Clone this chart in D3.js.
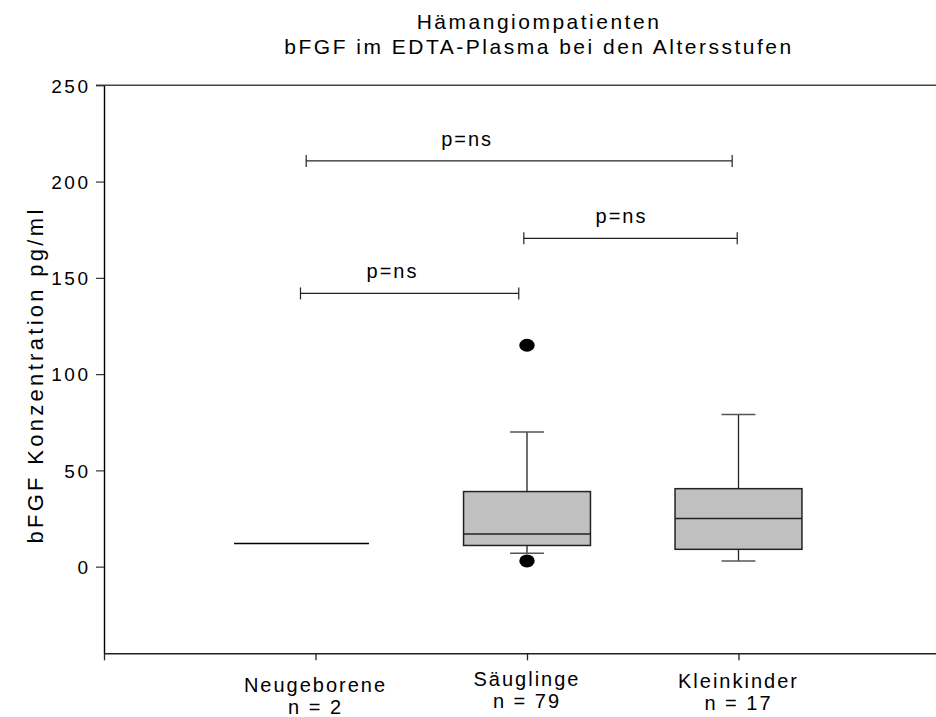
<!DOCTYPE html>
<html>
<head>
<meta charset="utf-8">
<script src="https://cdn.jsdelivr.net/npm/d3@7"></script>
<style>
  body { margin: 0; background: #fff; }
  text { font-family: "Liberation Sans", Arial, sans-serif; fill: #000; }
</style>
</head>
<body>
<div id="chart"></div>
<script>
// data
var groups = ["Neugeborene", "Säuglinge", "Kleinkinder"];
var counts = [2, 79, 17];
var medians = [12, 17, 25];
var lowerQuart = [12, 11, 9];
var upperQuart = [12, 39, 40.5];
var whiskerLow = [null, 7, 3];
var whiskerHigh = [null, 70, 79];
var outliers = [[], [3, 115], []];

var yTicks = [0, 50, 100, 150, 200, 250];

// significance brackets (group positions, height in pg/ml)
var bracketFrom = [0.956, 1.985, 0.929];
var bracketTo = [2.97, 2.994, 1.961];
var bracketLevel = [210.7, 170.5, 141.9];
var bracketLabel = ["p=ns", "p=ns", "p=ns"];
var bracketLabelAt = [1.717, 2.447, 1.364];

var width = 936,
    height = 717,
    margin = {top: 85.3, right: 0, bottom: 63.7, left: 104};

var svg = d3.select('#chart')
  .append('svg')
  .attr('width', width)
  .attr('height', height);

var x = d3.scaleLinear()
  .domain([0, 4])
  .range([margin.left, margin.left + 4 * 211.5]);

var y = d3.scaleLinear()
  .domain([-45, 250])
  .range([height - margin.bottom, margin.top]);

// title
var title = svg.append('text')
  .attr('text-anchor', 'middle')
  .style('font-size', '21px')
  .style('letter-spacing', '2.5px');
title.append('tspan').attr('x', 539).attr('y', 29).text('Hämangiompatienten');
title.append('tspan').attr('x', 539).attr('y', 54).text('bFGF im EDTA-Plasma bei den Altersstufen');

// top frame line
svg.append('line')
  .attr('x1', margin.left - 8).attr('x2', width)
  .attr('y1', y(250)).attr('y2', y(250))
  .attr('stroke', '#444').attr('stroke-width', 1.4);

// y axis
var yAxis = svg.append('g')
  .attr('transform', 'translate(' + margin.left + ',0)')
  .call(d3.axisLeft(y).tickValues(yTicks).tickSize(8).tickSizeOuter(0).tickPadding(5.5));
yAxis.select('.domain').attr('stroke', '#000').attr('stroke-width', 1.4);
yAxis.selectAll('.tick line').attr('stroke', '#333').attr('stroke-width', 1.2);
yAxis.selectAll('.tick text')
  .style('font-size', '19px')
  .style('letter-spacing', '2.5px')
  .attr('font-family', null)
  .attr('dy', '0.36em');

// x axis
var xAxis = svg.append('g')
  .attr('transform', 'translate(0,' + y(-45) + ')')
  .call(d3.axisBottom(x).tickValues([0, 1, 2, 3]).tickSize(7).tickSizeOuter(0).tickFormat(''));
xAxis.select('.domain').attr('stroke', '#222').attr('stroke-width', 1.4);
xAxis.selectAll('.tick line').attr('stroke', '#222').attr('stroke-width', 1.3);

// y axis title
svg.append('text')
  .attr('transform', 'translate(43,' + 375 + ') rotate(-90)')
  .attr('text-anchor', 'middle')
  .style('font-size', '22px')
  .style('letter-spacing', '3.3px')
  .text('bFGF Konzentration pg/ml');

// category labels
var labelShift = [0, -6, -4];
var labels = svg.selectAll('.cat')
  .data(groups)
  .enter()
  .append('text')
  .attr('class', 'cat')
  .attr('text-anchor', 'middle')
  .style('font-size', '20px')
  .style('letter-spacing', '2px');
labels.append('tspan')
  .attr('x', function(d, i) { return x(i + 1); })
  .attr('y', function(d, i) { return 692 + labelShift[i]; })
  .text(function(d) { return d; });
labels.append('tspan')
  .attr('x', function(d, i) { return x(i + 1); })
  .attr('y', function(d, i) { return 714 + labelShift[i]; })
  .text(function(d, i) { return 'n = ' + counts[i]; });

// boxes
var boxW = 0.6, capW = 0.16;
var g = svg.append('g');
groups.forEach(function(name, i) {
  var c = i + 1;
  if (counts[i] < 3) {
    // too few values: only the median is drawn
    g.append('line')
      .attr('x1', x(c - boxW / 2) - 18).attr('x2', x(c + boxW / 2) - 10)
      .attr('y1', y(medians[i])).attr('y2', y(medians[i]))
      .attr('stroke', '#000').attr('stroke-width', 1.6);
    return;
  }
  // whiskers
  g.append('line')
    .attr('x1', x(c)).attr('x2', x(c))
    .attr('y1', y(upperQuart[i])).attr('y2', y(whiskerHigh[i]))
    .attr('stroke', '#222').attr('stroke-width', 1.3);
  g.append('line')
    .attr('x1', x(c)).attr('x2', x(c))
    .attr('y1', y(lowerQuart[i])).attr('y2', y(whiskerLow[i]))
    .attr('stroke', '#222').attr('stroke-width', 1.3);
  [whiskerHigh[i], whiskerLow[i]].forEach(function(v) {
    g.append('line')
      .attr('x1', x(c - capW / 2)).attr('x2', x(c + capW / 2))
      .attr('y1', y(v)).attr('y2', y(v))
      .attr('stroke', '#555').attr('stroke-width', 1.5);
  });
  g.append('rect')
    .attr('x', x(c - boxW / 2))
    .attr('y', y(upperQuart[i]))
    .attr('width', x(c + boxW / 2) - x(c - boxW / 2))
    .attr('height', y(lowerQuart[i]) - y(upperQuart[i]))
    .attr('fill', '#c0c0c0')
    .attr('stroke', '#222').attr('stroke-width', 1.5);
  g.append('line')
    .attr('x1', x(c - boxW / 2)).attr('x2', x(c + boxW / 2))
    .attr('y1', y(medians[i])).attr('y2', y(medians[i]))
    .attr('stroke', '#222').attr('stroke-width', 1.5);
  g.selectAll(null)
    .data(outliers[i])
    .enter()
    .append('ellipse')
    .attr('cx', x(c))
    .attr('cy', function(d) { return y(d); })
    .attr('rx', 7.7).attr('ry', 6.5)
    .attr('fill', '#000');
});

// brackets
var b = svg.append('g');
bracketLevel.forEach(function(lv, i) {
  var yy = y(lv);
  b.append('line')
    .attr('x1', x(bracketFrom[i])).attr('x2', x(bracketTo[i]))
    .attr('y1', yy).attr('y2', yy)
    .attr('stroke', '#222').attr('stroke-width', 1.2);
  [bracketFrom[i], bracketTo[i]].forEach(function(v) {
    b.append('line')
      .attr('x1', x(v)).attr('x2', x(v))
      .attr('y1', yy - 6).attr('y2', yy + 6)
      .attr('stroke', '#222').attr('stroke-width', 1.2);
  });
  b.append('text')
    .attr('x', x(bracketLabelAt[i]))
    .attr('y', yy - 15)
    .attr('text-anchor', 'middle')
    .style('font-size', '20px')
    .style('letter-spacing', '2px')
    .text(bracketLabel[i]);
});
</script>
</body>
</html>
